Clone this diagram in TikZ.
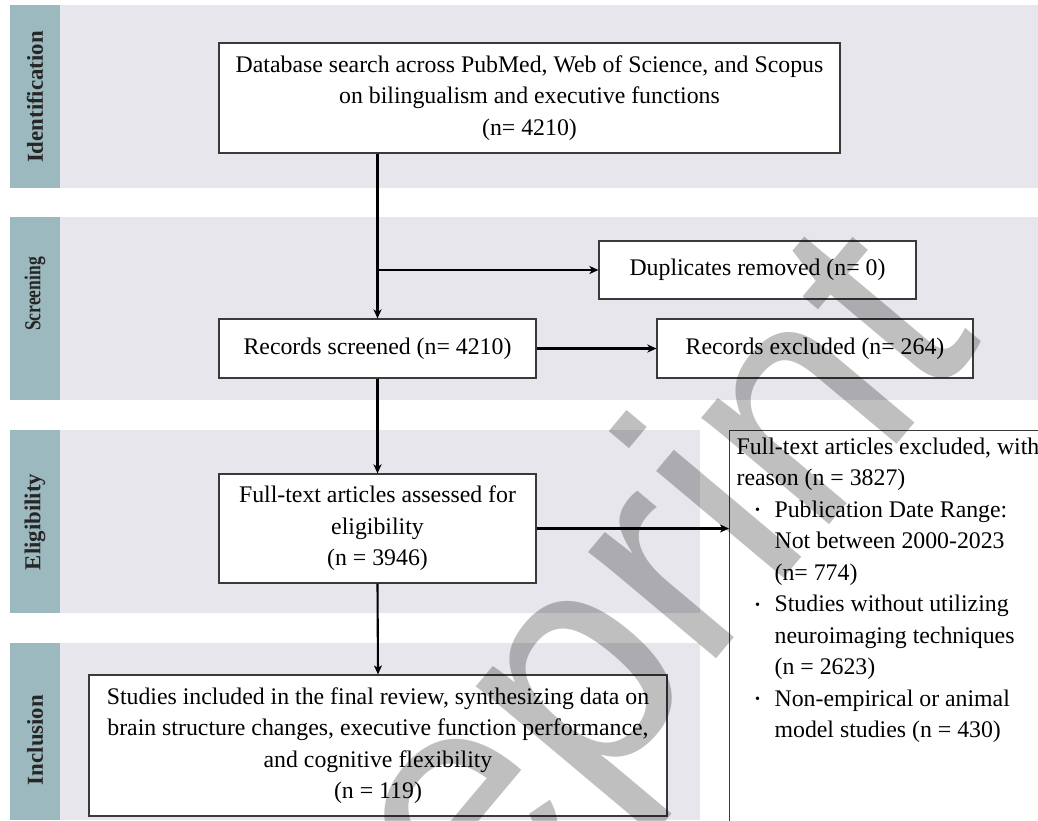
\documentclass[tikz,border=0pt]{standalone}
\usepackage{fontspec}
\setmainfont{Liberation Serif}
\newfontfamily\wmfont{Liberation Sans}
\usepackage{graphicx}
\usetikzlibrary{arrows.meta}
\definecolor{bandgray}{HTML}{E6E6EC}
\definecolor{stripteal}{HTML}{9BB9BE}
\definecolor{boxline}{HTML}{3A3A3A}
\newcommand\myitem{\hspace*{18.5pt}\makebox[19.5pt][l]{\raisebox{2.5pt}{\scalebox{0.6}{\textbullet}}}}
\newcommand\mycont{\hspace*{38pt}}
\begin{document}
\begin{tikzpicture}[x=1pt,y=-1pt,
  band/.style={fill=bandgray, draw=none},
  strip/.style={fill=stripteal, draw=none},
  phase/.style={rotate=90, inner sep=0pt, text=black!85, font=\fontsize{22.8}{26}\selectfont\bfseries},
  box/.style={draw=boxline, line width=1.2pt, fill=white, align=center, inner sep=0pt, font=\fontsize{23.8}{31.5}\selectfont},
  conn/.style={line width=2.1pt, -{Stealth[length=9pt,width=8pt,inset=2.5pt]}},
  ]
\useasboundingbox (0,0) rectangle (1038,820);
\fill[white] (0,0) rectangle (1038,820);
% bands
\fill[band] (60,5) rectangle (1038,188);
\fill[strip] (10,5) rectangle (60,188);
\fill[band] (60,217) rectangle (1038,400);
\fill[strip] (10,217) rectangle (60,400);
\fill[band] (60,430) rectangle (700,613);
\fill[strip] (10,430) rectangle (60,613);
\fill[band] (60,643) rectangle (700,820);
\fill[strip] (10,643) rectangle (60,820);
\node[phase] (lid) at (35,97) {Identification};
\node[phase] (lsc) at (35,294) {\scalebox{0.77}[1]{Screening}};
\node[phase] (lel) at (35,522) {Eligibility};
\node[phase] (lin) at (35,740) {Inclusion};
% boxes
\node[box, minimum width=621pt, minimum height=110pt] (db) at (529.5,98)
  {Database search across PubMed, Web of Science, and Scopus\\ on bilingualism and executive functions\\ (n= 4210)};
\node[box, minimum width=317pt, minimum height=58pt] (dup) at (757.5,270) {Duplicates removed (n= 0)};
\node[box, minimum width=317pt, minimum height=59pt] (rs) at (377.5,348.5) {Records screened (n= 4210)};
\node[box, minimum width=316pt, minimum height=59pt] (rex) at (815,348.5) {Records excluded (n= 264)};
\node[box, minimum width=317pt, minimum height=109pt] (fta) at (377.5,528.5)
  {Full-text articles assessed for\\ eligibility\\ (n = 3946)};
\node[box, minimum width=578pt, minimum height=141pt] (st) at (378,745.5)
  {Studies included in the final review, synthesizing data on\\ brain structure changes, executive function performance,\\ and cognitive flexibility\\ (n = 119)};
\node[draw=boxline, line width=1.2pt, fill=white, anchor=north west, inner xsep=7pt, inner ysep=7pt,
  font=\fontsize{23.8}{31.5}\selectfont] (excl) at (729,430)
  {\parbox[t][420pt][t]{400pt}{\raggedright
   Full-text articles excluded, with\\
   reason (n = 3827)\\
   \myitem Publication Date Range:\\
   \mycont Not between 2000-2023\\
   \mycont (n= 774)\\
   \myitem Studies without utilizing\\
   \mycont neuroimaging techniques\\
   \mycont (n = 2623)\\
   \myitem Non-empirical or animal\\
   \mycont model studies (n = 430)}};
% connectors
\draw[conn] (db.south -| rs.north) -- (rs.north);
\draw[conn] (dup.west -| rs.north) -- (dup.west);
\draw[conn] (rs.east) -- (rex.west);
\draw[conn] (rs.south) -- (fta.north);
\draw[conn] (fta.east) -- (fta.east -| excl.west);
\draw[conn] (fta.south) -- (st.north);
% watermark
\begin{scope}
\clip (0,0) rectangle (1038,820);
\node[anchor=base west, rotate=50, inner sep=0pt, text=black, text opacity=0.25,
  font=\wmfont\fontsize{315}{315}\selectfont] (wm) at (275,1185) {Preprint};
\end{scope}
\end{tikzpicture}
\end{document}
